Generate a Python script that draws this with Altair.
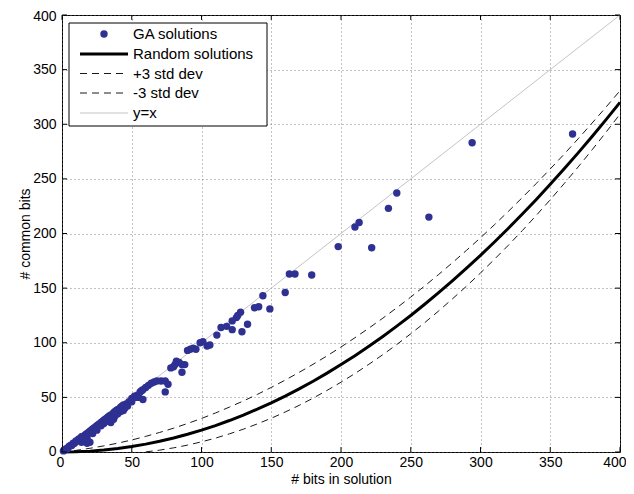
import altair as alt
import pandas as pd

# ---------------- data ----------------
ga_x = [1, 2, 3, 4, 5, 6, 7, 8, 9, 10, 11, 12, 13, 14, 15, 16, 17, 18, 19, 20,
        21, 22, 23, 24, 25, 26, 27, 28, 29, 30, 31, 32, 33, 34, 35, 36, 37, 38, 39, 40,
        42, 43, 44, 46, 48, 50,
        14, 16, 18, 20, 15, 18, 22, 25, 28, 30, 33, 35, 37, 38, 40, 42, 44, 45, 47,
        52, 53, 54, 56, 57, 58, 60, 62, 64, 66, 68, 71, 74, 76, 74, 58, 55, 50,
        78, 80, 81, 82, 84, 86, 88, 86, 90, 92, 94, 96, 99, 101, 104, 106, 111, 114,
        118, 122, 122, 125, 126, 128, 129, 133, 138, 141, 144, 149, 160, 163, 167, 179,
        198, 210, 213, 222, 234, 240, 263, 294, 366]
ga_y = [1, 2, 3, 3, 5, 6, 6, 8, 8, 10, 10, 12, 12, 14, 14, 15, 16, 17, 18, 19,
        20, 21, 22, 23, 24, 25, 26, 27, 28, 29, 30, 31, 32, 33, 34, 34, 36, 37, 38, 39,
        41, 42, 43, 44, 46, 49,
        9, 10, 8, 9, 12, 13, 17, 20, 24, 26, 28, 27, 30, 33, 35, 37, 38, 40, 42,
        51, 50, 52, 55, 56, 57, 59, 61, 63, 64, 65, 65, 65, 62, 55, 48, 50, 46,
        77, 78, 80, 83, 82, 80, 80, 73, 93, 94, 95, 94, 100, 101, 97, 98, 107, 114,
        115, 120, 112, 123, 125, 128, 110, 117, 132, 133, 143, 131, 146, 163, 163, 162,
        188, 206, 210, 187, 223, 237, 215, 283, 291]

curve_x = [0, 10, 20, 30, 40, 50, 60, 70, 80, 90, 100, 110, 120, 130, 140, 150, 160,
           170, 180, 190, 200, 210, 220, 230, 240, 250, 260, 270, 280, 290, 300, 310,
           320, 330, 340, 350, 360, 370, 380, 390, 400]
random_y = [0, 0.2, 0.8, 1.8, 3.2, 5, 7.2, 9.8, 12.8, 16.2, 20, 24.2, 28.8, 33.8, 39.2,
            45, 51.2, 57.8, 64.8, 72.2, 80, 88.2, 96.8, 105.8, 115.2, 125, 135.2, 145.8,
            156.8, 168.2, 180, 192.2, 204.8, 217.8, 231.2, 245, 259.2, 273.8, 288.8,
            304.2, 320]
upper_y = [0, 1.5, 3.4, 5.6, 8.1, 11.0, 14.3, 17.9, 21.8, 26.1, 30.7, 35.7, 41.1, 46.7,
           52.7, 59.1, 65.8, 72.9, 80.3, 88.0, 96.1, 104.6, 113.4, 122.5, 132.0, 141.8,
           152.0, 162.5, 173.4, 184.6, 196.1, 208.0, 220.3, 232.9, 245.8, 259.1, 272.7,
           286.7, 301.1, 315.7, 330.7]
lower_x = [60, 70, 80, 90, 100, 110, 120, 130, 140, 150, 160, 170, 180, 190, 200, 210,
           220, 230, 240, 250, 260, 270, 280, 290, 300, 310, 320, 330, 340, 350, 360,
           370, 380, 390, 400]
lower_y = [0.1, 1.7, 3.8, 6.3, 9.3, 12.7, 16.6, 20.9, 25.7, 30.9, 36.6, 42.7, 49.3,
           56.4, 63.9, 71.8, 80.3, 89.1, 98.4, 108.2, 118.4, 129.1, 140.3, 151.8, 163.9,
           176.4, 189.3, 202.7, 216.6, 230.9, 245.7, 260.9, 276.6, 292.7, 309.3]
diag_x = [0, 400]
diag_y = [0, 400]

tick_values = [0, 50, 100, 150, 200, 250, 300, 350, 400]
legend_labels = ["GA solutions", "Random solutions", "+3 std dev", "-3 std dev", "y=x"]

FONT = "Liberation Sans"
FS = 14
LEG_FS = 15
GA_COLOR = "#2E3192"

xs = alt.Scale(domain=[0, 400], nice=False)
ys = alt.Scale(domain=[0, 400], nice=False)

x_axis = alt.Axis(values=tick_values, title="# bits in solution", grid=True,
                  labelPadding=3, labelFlush=True, labelFlushOffset=6,
                  titleY=31.5, titleBaseline="alphabetic")
y_axis = alt.Axis(values=tick_values, title="# common bits", grid=True,
                  labelPadding=6, labelFlush=True, labelFlushOffset=6,
                  titleX=-33, titleBaseline="alphabetic", titleAngle=270)

ga_df = pd.DataFrame({"x": ga_x, "y": ga_y})
rand_df = pd.DataFrame({"x": curve_x, "y": random_y})
up_df = pd.DataFrame({"x": curve_x, "y": upper_y})
lo_df = pd.DataFrame({"x": lower_x, "y": lower_y})
diag_df = pd.DataFrame({"x": diag_x, "y": diag_y})

diag = alt.Chart(diag_df).mark_line(color="#c4c4c4", strokeWidth=1).encode(
    x=alt.X("x:Q", scale=xs, axis=x_axis),
    y=alt.Y("y:Q", scale=ys, axis=y_axis),
)
upper = alt.Chart(up_df).mark_line(color="black", strokeWidth=0.9, strokeDash=[7, 5]).encode(
    x=alt.X("x:Q", scale=xs), y=alt.Y("y:Q", scale=ys))
lower = alt.Chart(lo_df).mark_line(color="black", strokeWidth=0.9, strokeDash=[7, 5]).encode(
    x=alt.X("x:Q", scale=xs), y=alt.Y("y:Q", scale=ys))
rand = alt.Chart(rand_df).mark_line(color="black", strokeWidth=3).encode(
    x=alt.X("x:Q", scale=xs), y=alt.Y("y:Q", scale=ys))
points = alt.Chart(ga_df).mark_circle(size=55, color=GA_COLOR, opacity=1).encode(
    x=alt.X("x:Q", scale=xs), y=alt.Y("y:Q", scale=ys))

# inside tick marks (Matlab style)
tk = pd.DataFrame({"t": tick_values})
tick_y_len = 4.5
tick_x_len = 3.6
tb = alt.Chart(tk).mark_rule(color="black", strokeWidth=1).encode(
    x=alt.X("t:Q", scale=xs), y=alt.datum(0), y2=alt.datum(tick_y_len))
tt = alt.Chart(tk).mark_rule(color="black", strokeWidth=1).encode(
    x=alt.X("t:Q", scale=xs), y=alt.datum(400), y2=alt.datum(400 - tick_y_len))
tl = alt.Chart(tk).mark_rule(color="black", strokeWidth=1).encode(
    y=alt.Y("t:Q", scale=ys), x=alt.datum(0), x2=alt.datum(tick_x_len))
tr = alt.Chart(tk).mark_rule(color="black", strokeWidth=1).encode(
    y=alt.Y("t:Q", scale=ys), x=alt.datum(400), x2=alt.datum(400 - tick_x_len))

# legend box (pixel space within the plot area)
one = alt.Data(values=[{"a": 1}])
row_y = [19, 39, 58.5, 78, 98]
box = alt.Chart(one).mark_rect(fill="white", stroke="black", strokeWidth=1).encode(
    x=alt.value(7), x2=alt.value(205), y=alt.value(8), y2=alt.value(111))
leg_dot = alt.Chart(one).mark_circle(size=55, color=GA_COLOR, opacity=1).encode(
    x=alt.value(42), y=alt.value(row_y[0]))
leg_rand = alt.Chart(one).mark_rule(color="black", strokeWidth=3).encode(
    x=alt.value(18), x2=alt.value(66), y=alt.value(row_y[1]))
leg_up = alt.Chart(one).mark_rule(color="black", strokeWidth=0.9, strokeDash=[7, 5]).encode(
    x=alt.value(18), x2=alt.value(66), y=alt.value(row_y[2]))
leg_lo = alt.Chart(one).mark_rule(color="black", strokeWidth=0.9, strokeDash=[7, 5]).encode(
    x=alt.value(18), x2=alt.value(66), y=alt.value(row_y[3]))
leg_diag = alt.Chart(one).mark_rule(color="#c4c4c4", strokeWidth=1).encode(
    x=alt.value(18), x2=alt.value(66), y=alt.value(row_y[4]))
leg_texts = [
    alt.Chart(one).mark_text(align="left", baseline="middle", font=FONT, fontSize=LEG_FS,
                             color="black").encode(
        x=alt.value(71), y=alt.value(ry), text=alt.value(lab))
    for lab, ry in zip(legend_labels, row_y)
]

chart = alt.layer(
    diag, upper, lower, rand, points, tb, tt, tl, tr,
    box, leg_dot, leg_rand, leg_up, leg_lo, leg_diag, *leg_texts
).properties(
    width=558, height=437,
    autosize=alt.AutoSizeParams(type="none"),
    padding={"left": 54, "top": 7, "right": 6, "bottom": 34},
    background="white",
).configure_view(
    stroke="black", strokeWidth=1
).configure_axis(
    labelFont=FONT, labelFontSize=FS, labelColor="black",
    titleFont=FONT, titleFontSize=FS, titleFontWeight="normal", titleColor="black",
    domain=False, ticks=False,
    gridColor="#666666", gridDash=[1, 3], gridWidth=1, gridOpacity=0.8,
)

chart.save("out.html", embed_options={"renderer": "svg", "actions": False})
